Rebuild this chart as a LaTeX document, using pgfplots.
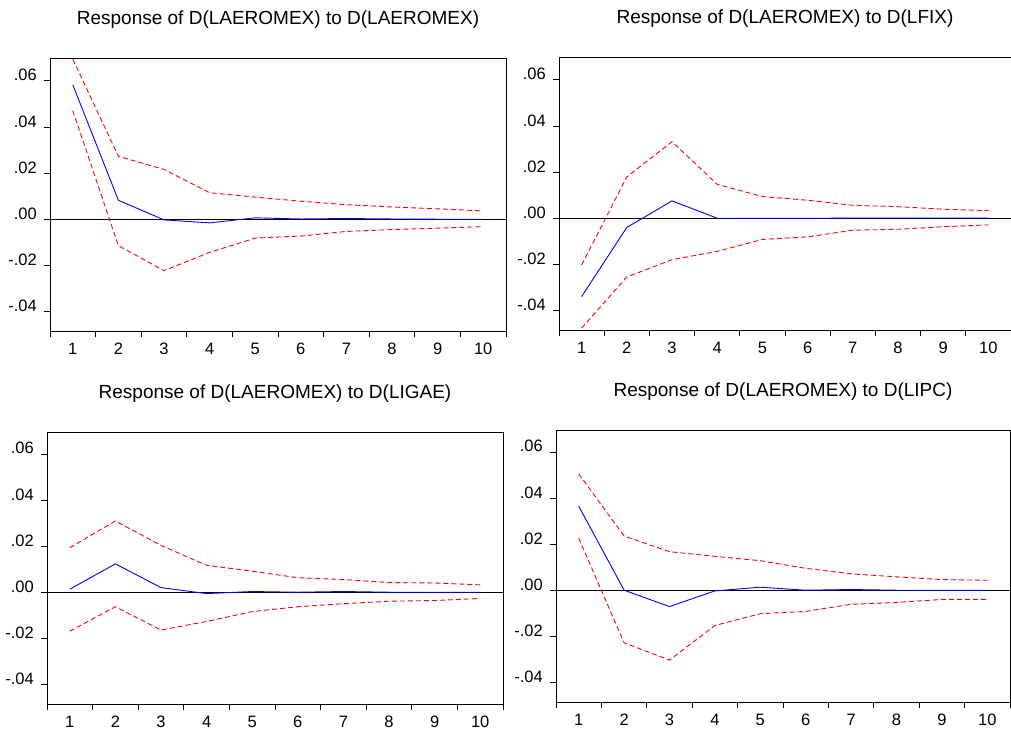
\documentclass[border=0pt]{standalone}
\usepackage{fontspec}
\setmainfont{Liberation Sans}
\usepackage{pgfplots}
\usepackage{pgfplotstable}
\pgfplotsset{compat=1.18}

% impulse responses: period, response, upper band, lower band
\pgfplotstableread{
h  r        up      lo
1  0.0583   0.0694  0.0471
2  0.0082   0.0273 -0.0115
3 -0.0003   0.0216 -0.0223
4 -0.0016   0.0115 -0.0144
5  0.0006   0.0096 -0.0082
6  0.0001   0.0078 -0.0073
7  0.0003   0.0063 -0.0053
8  0.0001   0.0053 -0.0045
9  0.0000   0.0045 -0.0039
10 0.0000   0.0036 -0.0032
}\tabA
\pgfplotstableread{
h  r        up      lo
1 -0.0340  -0.0203 -0.0477
2 -0.0040   0.0179 -0.0255
3  0.0075   0.0332 -0.0180
4  0.0000   0.0147 -0.0144
5 -0.0001   0.0094 -0.0092
6 -0.0001   0.0078 -0.0081
7  0.0001   0.0056 -0.0052
8  0.0001   0.0050 -0.0048
9  0.0001   0.0039 -0.0037
10 0.0001   0.0033 -0.0029
}\tabB
\pgfplotstableread{
h  r        up      lo
1  0.0013   0.0193 -0.0169
2  0.0123   0.0309 -0.0063
3  0.0020   0.0203 -0.0164
4 -0.0006   0.0117 -0.0127
5  0.0003   0.0091 -0.0084
6  0.0000   0.0063 -0.0063
7  0.0003   0.0055 -0.0050
8  0.0000   0.0042 -0.0039
9  0.0000   0.0040 -0.0036
10 0.0000   0.0032 -0.0027
}\tabC
\pgfplotstableread{
h  r        up      lo
1  0.0365   0.0505  0.0226
2  0.0000   0.0235 -0.0228
3 -0.0071   0.0167 -0.0303
4 -0.0003   0.0147 -0.0153
5  0.0013   0.0128 -0.0102
6  0.0000   0.0095 -0.0092
7  0.0003   0.0071 -0.0061
8  0.0000   0.0058 -0.0053
9  0.0000   0.0046 -0.0040
10 0.0000   0.0043 -0.0040
}\tabD

\pgfplotsset{
  irf/.style={
    scale only axis, height=272pt,
    xmin=0.5, xmax=10.5, ymin=-0.0485, ymax=0.0695,
    scaled y ticks=false,
    axis line style={line width=1pt},
    tick style={black, line width=0.8pt},
    tick align=outside, xtick pos=bottom, ytick pos=left,
    major tick length=6pt, minor tick length=6pt,
    xtick={1,...,10}, xticklabels={1,2,3,4,5,6,7,8,9,10},
    major x tick style={draw=none},
    minor xtick={0.5,1.5,...,10.5},
    ytick={-0.04,-0.02,0,0.02,0.04,0.06},
    yticklabels={-.04,-.02,.00,.02,.04,.06},
    ticklabel style={font=\fontsize{16.5}{19}\selectfont, inner sep=0pt},
    yticklabel style={anchor=base east, xshift=-7pt},
    xticklabel style={anchor=base, yshift=-17pt},
    title style={font=\fontsize{19}{22}\selectfont, at={(0.5,1)}, anchor=base, yshift=28pt},
    clip=true,
  },
  resp/.style={blue, line width=0.9pt},
  band/.style={red, line width=0.9pt, dash pattern=on 5pt off 3pt},
}

\begin{document}
\begin{tikzpicture}
\useasboundingbox (0,0) rectangle (1011pt,-729pt);

\begin{axis}[irf, width=456pt, at={(50pt,-331pt)}, anchor=south west,
  title={Response of D(LAEROMEX) to D(LAEROMEX)}]
\addplot[black, line width=0.8pt] coordinates {(0.5,0) (10.5,0)};
\addplot[band] table[x=h, y=up] {\tabA};
\addplot[band] table[x=h, y=lo] {\tabA};
\addplot[resp] table[x=h, y=r] {\tabA};
\end{axis}

\begin{axis}[irf, width=452pt, at={(559pt,-330pt)}, anchor=south west,
  title={Response of D(LAEROMEX) to D(LFIX)}]
\addplot[black, line width=0.8pt] coordinates {(0.5,0) (10.5,0)};
\addplot[band] table[x=h, y=up] {\tabB};
\addplot[band] table[x=h, y=lo] {\tabB};
\addplot[resp] table[x=h, y=r] {\tabB};
\end{axis}

\begin{axis}[irf, width=456pt, at={(47pt,-704pt)}, anchor=south west,
  title={Response of D(LAEROMEX) to D(LIGAE)}]
\addplot[black, line width=0.8pt] coordinates {(0.5,0) (10.5,0)};
\addplot[band] table[x=h, y=up] {\tabC};
\addplot[band] table[x=h, y=lo] {\tabC};
\addplot[resp] table[x=h, y=r] {\tabC};
\end{axis}

\begin{axis}[irf, width=454pt, at={(556pt,-702pt)}, anchor=south west,
  title={Response of D(LAEROMEX) to D(LIPC)}]
\addplot[black, line width=0.8pt] coordinates {(0.5,0) (10.5,0)};
\addplot[band] table[x=h, y=up] {\tabD};
\addplot[band] table[x=h, y=lo] {\tabD};
\addplot[resp] table[x=h, y=r] {\tabD};
\end{axis}
\end{tikzpicture}
\end{document}
